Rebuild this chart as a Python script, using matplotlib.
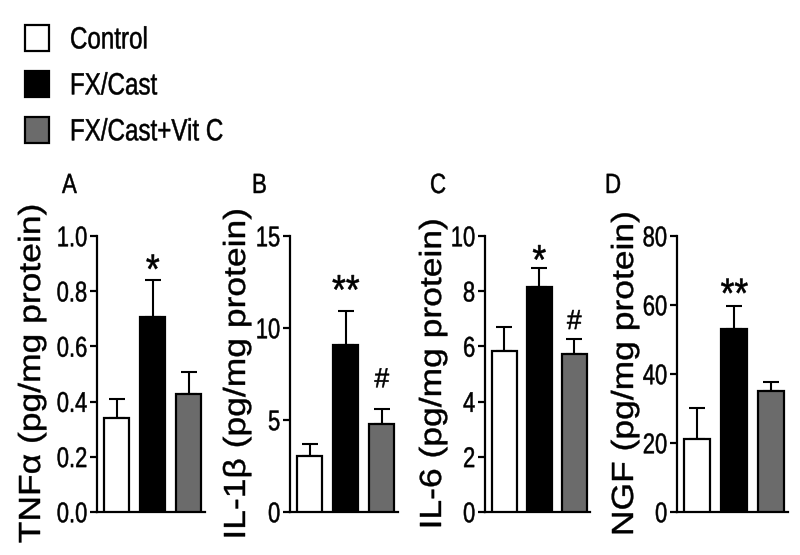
import matplotlib
matplotlib.use("Agg")
import matplotlib.pyplot as plt
from matplotlib.patches import Patch
from matplotlib.patheffects import AbstractPathEffect
from matplotlib.transforms import Affine2D
import numpy as np

groups = ["Control", "FX/Cast", "FX/Cast+Vit C"]
panels = ["A", "B", "C", "D"]
ylabels = ["TNF\u03b1 (pg/mg protein)", "IL-1\u03b2 (pg/mg protein)",
           "IL-6 (pg/mg protein)", "NGF (pg/mg protein)"]
tnf_mean = [0.34, 0.706, 0.427]
tnf_err = [0.07, 0.134, 0.08]
il1b_mean = [3.04, 9.1, 4.77]
il1b_err = [0.66, 1.85, 0.83]
il6_mean = [5.83, 8.15, 5.72]
il6_err = [0.87, 0.69, 0.55]
ngf_mean = [21.2, 52.9, 35.2]
ngf_err = [9.0, 6.7, 2.6]
sig_marks = [["", "*", ""], ["", "**", "#"], ["", "*", "#"], ["", "**", ""]]
yticks = [[0.0, 0.2, 0.4, 0.6, 0.8, 1.0], [0, 5, 10, 15], [0, 2, 4, 6, 8, 10], [0, 20, 40, 60, 80]]
yticklabels = [["0.0", "0.2", "0.4", "0.6", "0.8", "1.0"], ["0", "5", "10", "15"],
               ["0", "2", "4", "6", "8", "10"], ["0", "20", "40", "60", "80"]]

means = [tnf_mean, il1b_mean, il6_mean, ngf_mean]
errs = [tnf_err, il1b_err, il6_err, ngf_err]


class Stretch(AbstractPathEffect):
    """Draw text scaled in its own frame (condensed look), with a light stroke for weight."""
    def __init__(self, sx=1.0, sy=1.0, yanchor="center", lw=0.35):
        super().__init__()
        self.sx = sx
        self.sy = sy
        self.yanchor = yanchor
        self.lw = lw

    def draw_path(self, renderer, gc, tpath, affine, rgbFace=None):
        ext = tpath.get_extents()
        cx = (ext.x0 + ext.x1) / 2
        cy = (ext.y0 + ext.y1) / 2 if self.yanchor == "center" else 0.0
        t = (Affine2D().translate(-cx, -cy).scale(self.sx, self.sy).translate(cx, cy)
             + affine)
        gc0 = renderer.new_gc()
        gc0.copy_properties(gc)
        if self.lw > 0 and rgbFace is not None:
            gc0.set_linewidth(self.lw)
            gc0.set_foreground(rgbFace, isRGBA=True)
            gc0.set_joinstyle("round")
        renderer.draw_path(gc0, tpath, t, rgbFace)
        gc0.restore()


plt.rcParams['font.family'] = ['Liberation Sans', 'DejaVu Sans']

colors = ["white", "black", "#6b6b6b"]
fig = plt.figure(figsize=(8, 5.55), dpi=100)

W, H = 800, 555
lefts = [97, 290, 485, 677]
widths = [108, 108, 105, 111]
label_right = [47, 252, 448, 640]
mark_off = [[0, 7, 0], [0, 14, 21], [0, 5, 12.5], [0, 8.5, 0]]
letter_x = [62, 252, 430, 605]

for i in range(4):
    ax = fig.add_axes([lefts[i] / W, 1 - 512 / H, widths[i] / W, 276 / H])
    x = np.arange(3)
    ax.bar(x, means[i], width=0.7, color=colors, edgecolor="black", linewidth=1.6, zorder=3)
    ax.errorbar(x, means[i], yerr=[np.zeros(3), errs[i]], fmt="none", ecolor="black",
                elinewidth=1.5, capsize=5.5, capthick=1.5, zorder=2)
    ax.set_xlim(-0.55, 2.45)
    ax.set_ylim(yticks[i][0], yticks[i][-1])
    ax.set_yticks(yticks[i])
    ax.set_yticklabels(yticklabels[i], fontsize=15.8)
    ax.set_xticks([])
    for s in ["top", "right"]:
        ax.spines[s].set_visible(False)
    for s in ["left", "bottom"]:
        ax.spines[s].set_linewidth(1.6)
    ax.tick_params(axis="y", length=5, width=1.6, pad=2)
    for t in ax.get_yticklabels():
        t.set_path_effects([Stretch(1.0, 1.3, "center", lw=0.35)])
    ax.set_ylabel(ylabels[i], fontsize=22,
                  path_effects=[Stretch(1.16, 1.0, "center", lw=0.3)])
    ax.yaxis.set_label_coords((label_right[i] - lefts[i]) / widths[i], 0.5)
    for j in range(3):
        if sig_marks[i][j]:
            is_hash = sig_marks[i][j] == "#"
            ax.annotate(sig_marks[i][j], (x[j], means[i][j] + errs[i][j]),
                        xytext=(0, mark_off[i][j]), textcoords="offset points",
                        ha="center", va="center", fontsize=19 if is_hash else 25.5,
                        path_effects=[Stretch(1.0, 1.05 if is_hash else 1.18, "center", lw=0.4)])
    fig.text(letter_x[i] / W, 1 - 193 / H, panels[i], fontsize=16, ha="left", va="baseline",
             path_effects=[Stretch(1.0, 1.25, "base", lw=0.35)])

handles = [Patch(facecolor=c, edgecolor="black", linewidth=1.6) for c in colors]
leg = fig.legend(handles, groups, loc="upper left", bbox_to_anchor=(25 / W, 1 - 25 / H),
                 frameon=False, fontsize=17.4, handlelength=0.99, handleheight=1.28,
                 handletextpad=0.87, labelspacing=0.82, borderaxespad=0, borderpad=0)
for t in leg.get_texts():
    t.set_path_effects([Stretch(1.0, 1.27, "center", lw=0.35)])

fig.savefig("out.png", dpi=100)
